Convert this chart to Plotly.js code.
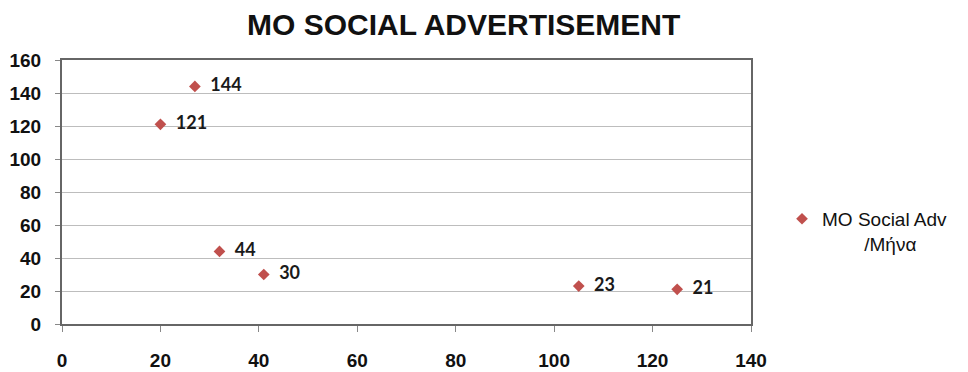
<!DOCTYPE html>
<html>
<head>
<meta charset="utf-8">
<script src="https://cdn.plot.ly/plotly-3.0.1.min.js"></script>
<style>html,body{margin:0;padding:0;background:#fff;}#chart{width:968px;height:372px;}</style>
</head>
<body>
<div id="chart"></div>
<script>
const xValues = [27, 20, 32, 41, 105, 125];
const yValues = [144, 121, 44, 30, 23, 21];
const pointLabels = ['144', '121', '44', '30', '23', '21'];
const seriesName = 'MO Social Adv<br>\u00a0\u00a0\u00a0\u00a0\u00a0\u00a0\u00a0\u00a0/Μήνα';
const chartTitle = 'MO SOCIAL ADVERTISEMENT';

const trace = {
  x: xValues,
  y: yValues,
  text: pointLabels,
  texttemplate: '\u00a0\u00a0%{text}',
  mode: 'markers+text',
  type: 'scatter',
  name: seriesName,
  showlegend: true,
  textposition: 'middle right',
  textfont: {family: 'Lato, Carlito, sans-serif', size: 18, color: '#1a1a1a', weight: 'bold'},
  marker: {symbol: 'diamond', size: 9, color: '#c0504d'},
  cliponaxis: false
};

const layout = {
  width: 968, height: 372,
  paper_bgcolor: '#fff', plot_bgcolor: '#fff',
  margin: {l: 62, r: 217, t: 60, b: 48},
  title: {
    text: '<b>' + chartTitle + '</b>',
    x: 0.479, xanchor: 'center', y: 0.933, yanchor: 'middle',
    font: {family: 'Liberation Sans, Arial, sans-serif', size: 30, color: '#111'}
  },
  xaxis: {
    range: [0, 140], dtick: 20, tick0: 0,
    showgrid: false, zeroline: false,
    showline: true, linecolor: '#666', linewidth: 2, mirror: true,
    ticks: 'outside', ticklen: 6, tickcolor: '#888', tickwidth: 1,
    ticklabelstandoff: 12,
    tickfont: {family: 'Liberation Sans, Arial, sans-serif', size: 19, color: '#111', weight: 'bold'}
  },
  yaxis: {
    range: [0, 160], dtick: 20, tick0: 0,
    showgrid: true, gridcolor: '#bdbdbd', gridwidth: 1, zeroline: false,
    showline: true, linecolor: '#666', linewidth: 2, mirror: true,
    ticks: 'outside', ticklen: 5, tickcolor: '#888', tickwidth: 1,
    ticklabelstandoff: 10,
    tickfont: {family: 'Liberation Sans, Arial, sans-serif', size: 19, color: '#111', weight: 'bold'}
  },
  showlegend: true,
  legend: {
    x: 1.045, xanchor: 'left', y: 0.47, yanchor: 'top',
    valign: 'top',
    font: {family: 'Liberation Sans, Arial, sans-serif', size: 19, color: '#111'},
    bgcolor: 'rgba(0,0,0,0)'
  }
};

Plotly.newPlot('chart', [trace], layout, {displayModeBar: false, staticPlot: true});
</script>
</body>
</html>
